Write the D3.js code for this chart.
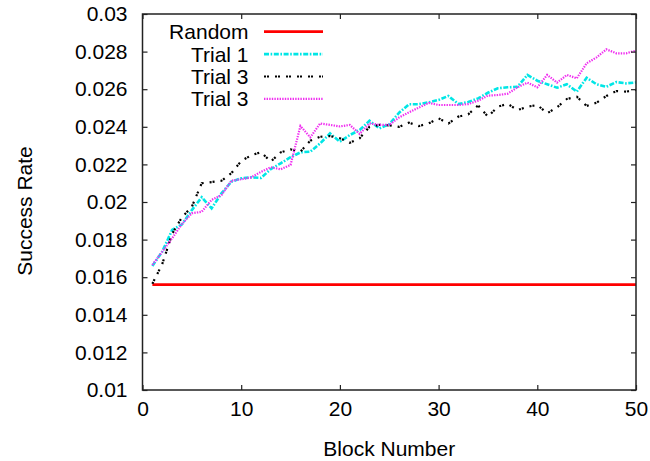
<!DOCTYPE html>
<html>
    <head>
        <script src="https://cdn.jsdelivr.net/npm/d3@7"></script>
        <style>
            body { margin: 0; background: #fff; }
            text { font-family: "Liberation Sans", Arial, Helvetica, sans-serif; fill: #000; }
        </style>
    </head>
    <body>

        <div id="viz"></div>

        <script>

            // block numbers on the x axis
            const blocks = d3.range(1, 51);

            // success rate of a random guess (flat line)
            const randomRate = 0.0156;

            // Trial 1 (cyan, dash-dot)
            const trial1 = [
                0.0166, 0.01736, 0.01851, 0.01881, 0.01957, 0.02025, 0.01966, 0.02046, 0.02108, 0.02126,
                0.02131, 0.02128, 0.02175, 0.02206, 0.02238, 0.02264, 0.02268, 0.02312, 0.02365, 0.02321,
                0.02356, 0.02383, 0.02432, 0.02392, 0.02414, 0.02475, 0.0252, 0.0252, 0.0253, 0.02543,
                0.02564, 0.02521, 0.02532, 0.02551, 0.02581, 0.02605, 0.0261, 0.02613, 0.02676, 0.02645,
                0.02626, 0.02608, 0.02626, 0.02587, 0.02661, 0.02626, 0.02613, 0.02638, 0.02631, 0.02636
            ];

            // first "Trial 3" (black, dotted)
            const trial3a = [
                0.01565, 0.0167, 0.0183, 0.01919, 0.01975, 0.0210, 0.02106, 0.02113, 0.02153, 0.02218,
                0.02248, 0.02265, 0.02215, 0.02264, 0.0228, 0.02268, 0.02326, 0.02347, 0.02351, 0.02339,
                0.02315, 0.02339, 0.024, 0.0241, 0.02408, 0.024, 0.02422, 0.02404, 0.02418, 0.02445,
                0.02418, 0.02454, 0.02466, 0.02514, 0.02454, 0.02507, 0.02522, 0.02489, 0.02507, 0.02516,
                0.02472, 0.02504, 0.02548, 0.0256, 0.02511, 0.02528, 0.02564, 0.0259, 0.02587, 0.02596
            ];

            // second "Trial 3" (magenta, fine dots)
            const trial3b = [
                0.01665, 0.01736, 0.01807, 0.01883, 0.0194, 0.01948, 0.02011, 0.02037, 0.02113, 0.02121,
                0.02131, 0.0216, 0.02185, 0.02174, 0.02197, 0.02404, 0.02344, 0.02418, 0.0241, 0.02402,
                0.0241, 0.02362, 0.02418, 0.0241, 0.0241, 0.0245, 0.02477, 0.02502, 0.02527, 0.02516,
                0.02516, 0.02516, 0.02521, 0.02539, 0.02566, 0.02569, 0.02576, 0.0261, 0.02635, 0.0261,
                0.02676, 0.02635, 0.02676, 0.02658, 0.02738, 0.02769, 0.02812, 0.02791, 0.02791, 0.02805
            ];

            const xTicks = [0, 10, 20, 30, 40, 50];
            const yTicks = [0.01, 0.012, 0.014, 0.016, 0.018, 0.02, 0.022, 0.024, 0.026, 0.028, 0.03];
            const yTickLabels = ["0.01", "0.012", "0.014", "0.016", "0.018", "0.02", "0.022", "0.024", "0.026", "0.028", "0.03"];

            const W = 650, H = 461;
            const margin = {top: 14, right: 14, bottom: 71, left: 142.5};

            const svg = d3.select("#viz")
                .append("svg")
                .attr("width", W)
                .attr("height", H);

            const x = d3.scaleLinear().domain([0, 50]).range([margin.left, W - margin.right]);
            const y = d3.scaleLinear().domain([0.01, 0.03]).range([H - margin.bottom, margin.top]);

            // series setup (gnuplot-ish line styles)
            const series = [
                {name: "Random",  values: blocks.map(() => randomRate), color: "#ff0000", width: 2.7, dash: null},
                {name: "Trial 1", values: trial1,  color: "#00e6e6", width: 2.6, dash: "5,1.6,1.6,1.6"},
                {name: "Trial 3", values: trial3a, color: "#000000", width: 2.2, dash: "2,1,2,6"},
                {name: "Trial 3", values: trial3b, color: "#f030f0", width: 2.2, dash: "1.4,1.2"}
            ];

            const line = d3.line()
                .x((d, i) => x(blocks[i]))
                .y(d => y(d));

            svg.append("g")
                .selectAll("path")
                .data(series)
                .enter()
                .append("path")
                    .attr("d", d => line(d.values))
                    .style("fill", "none")
                    .style("stroke", d => d.color)
                    .style("stroke-width", d => d.width)
                    .style("stroke-dasharray", d => d.dash);

            // axes: inward ticks on all four sides like gnuplot
            const axisColor = "#222";
            const x0 = x.range()[0], x1 = x.range()[1];
            const y0 = y.range()[0], y1 = y.range()[1];

            svg.append("g")
                .attr("transform", "translate(0," + y0 + ")")
                .call(d3.axisBottom(x).tickValues(xTicks).tickSizeInner(-5).tickSizeOuter(0).tickPadding(11))
                .call(g => g.select(".domain").remove())
                .call(g => g.selectAll("line").attr("stroke", axisColor).attr("stroke-width", 1.2))
                .call(g => g.selectAll("text").attr("font-size", 21).attr("fill", "#000"));

            svg.append("g")
                .attr("transform", "translate(0," + y1 + ")")
                .call(d3.axisTop(x).tickValues(xTicks).tickSizeInner(-5).tickSizeOuter(0).tickFormat(""))
                .call(g => g.select(".domain").remove())
                .call(g => g.selectAll("line").attr("stroke", axisColor).attr("stroke-width", 1.2));

            svg.append("g")
                .attr("transform", "translate(" + x0 + ",0)")
                .call(d3.axisLeft(y).tickValues(yTicks).tickSizeInner(-5).tickSizeOuter(0).tickPadding(15)
                    .tickFormat((d, i) => yTickLabels[i]))
                .call(g => g.select(".domain").remove())
                .call(g => g.selectAll("line").attr("stroke", axisColor).attr("stroke-width", 1.2))
                .call(g => g.selectAll("text").attr("font-size", 21).attr("fill", "#000"));

            svg.append("g")
                .attr("transform", "translate(" + x1 + ",0)")
                .call(d3.axisRight(y).tickValues(yTicks).tickSizeInner(-5).tickSizeOuter(0).tickFormat(""))
                .call(g => g.select(".domain").remove())
                .call(g => g.selectAll("line").attr("stroke", axisColor).attr("stroke-width", 1.2));

            // frame
            svg.append("rect")
                .attr("x", x0)
                .attr("y", y1)
                .attr("width", x1 - x0)
                .attr("height", y0 - y1)
                .style("fill", "none")
                .style("stroke", axisColor)
                .style("stroke-width", 1.5);

            // axis titles
            svg.append("text")
                .attr("x", (x0 + x1) / 2)
                .attr("y", 456)
                .attr("text-anchor", "middle")
                .attr("font-size", 21)
                .text("Block Number");

            svg.append("text")
                .attr("transform", "translate(31.5,211) rotate(-90)")
                .attr("text-anchor", "middle")
                .attr("font-size", 21)
                .text("Success Rate");

            // legend, top left inside the plot
            const legend = svg.append("g")
                .selectAll("g")
                .data(series)
                .enter()
                .append("g")
                .attr("transform", (d, i) => "translate(0," + (31.7 + i * 22.4) + ")");

            legend.append("text")
                .attr("x", 248.5)
                .attr("y", 7.5)
                .attr("text-anchor", "end")
                .attr("font-size", 21)
                .text(d => d.name);

            legend.append("line")
                .attr("x1", 264)
                .attr("x2", 323)
                .style("stroke", d => d.color)
                .style("stroke-width", d => d.width)
                .style("stroke-dasharray", d => d.dash);

        </script>

    </body>
</html>
